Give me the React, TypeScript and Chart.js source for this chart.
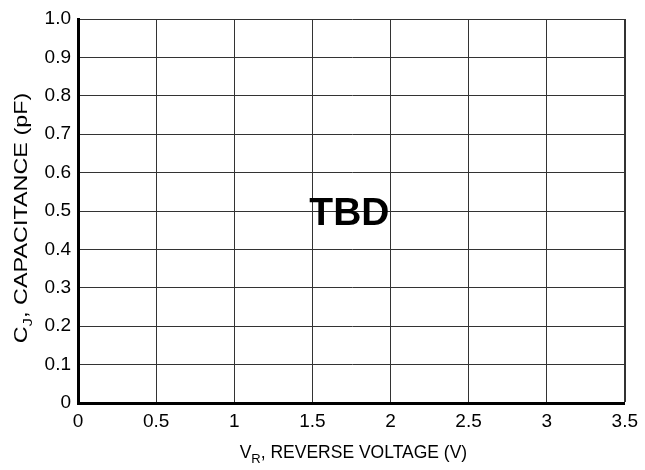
import React, { useEffect, useRef } from "react";
import { Chart, registerables } from "chart.js";

Chart.register(...registerables);

const xTicks = [0, 0.5, 1, 1.5, 2, 2.5, 3, 3.5];
const xTickLabels = ["0", "0.5", "1", "1.5", "2", "2.5", "3", "3.5"];
const yTicks = [0, 0.1, 0.2, 0.3, 0.4, 0.5, 0.6, 0.7, 0.8, 0.9, 1.0];
const yTickLabels = ["0", "0.1", "0.2", "0.3", "0.4", "0.5", "0.6", "0.7", "0.8", "0.9", "1.0"];
const seriesValues: { x: number; y: number }[] = []; // no data: "TBD"
const centerText = "TBD";
const xTitle = { main: "V", sub: "R", rest: ", REVERSE VOLTAGE (V)" };
const yTitle = { main: "C", sub: "J", rest: ", CAPACITANCE (pF)" };

const FONT = "'Liberation Sans', Arial, Helvetica, sans-serif";

function drawSubTitle(ctx: CanvasRenderingContext2D, t: { main: string; sub: string; rest: string }, size: number) {
  const big = `${size}px ${FONT}`;
  const small = `${Math.round(size * 0.72)}px ${FONT}`;
  ctx.font = big;
  const w1 = ctx.measureText(t.main).width;
  const w3 = ctx.measureText(t.rest).width;
  ctx.font = small;
  const w2 = ctx.measureText(t.sub).width;
  const total = w1 + w2 + w3;
  let x = -total / 2;
  ctx.textAlign = "left";
  ctx.textBaseline = "alphabetic";
  ctx.font = big;
  ctx.fillText(t.main, x, 0);
  x += w1;
  ctx.font = small;
  ctx.fillText(t.sub, x, size * 0.28);
  x += w2;
  ctx.font = big;
  ctx.fillText(t.rest, x, 0);
}

const titlesPlugin = {
  id: "titlesPlugin",
  afterDraw(chart: any) {
    const { ctx, chartArea } = chart;
    ctx.save();
    ctx.fillStyle = "#000";
    const cx = (chartArea.left + chartArea.right) / 2;
    // x title
    ctx.save();
    ctx.translate(cx + 2, 458);
    drawSubTitle(ctx, xTitle, 17.5);
    ctx.restore();
    // y title
    ctx.save();
    ctx.translate(27, 218);
    ctx.rotate(-Math.PI / 2);
    ctx.scale(1.3, 1);
    drawSubTitle(ctx, yTitle, 18);
    ctx.restore();
    // center text
    ctx.font = `bold 39px ${FONT}`;
    ctx.textAlign = "center";
    ctx.textBaseline = "middle";
    ctx.fillText(centerText, cx - 2, 214);
    ctx.restore();
  },
};

export default function App() {
  const ref = useRef<HTMLCanvasElement | null>(null);
  useEffect(() => {
    if (!ref.current) return;
    const chart = new Chart(ref.current, {
      type: "scatter",
      data: { datasets: [{ data: seriesValues, showLine: false }] },
      options: {
        animation: false,
        responsive: false,
        layout: { padding: { left: 0, top: 19, right: 19, bottom: 0 } },
        plugins: { legend: { display: false }, tooltip: { enabled: false } },
        scales: {
          x: {
            type: "linear",
            min: 0,
            max: 3.5,
            afterBuildTicks: (s: any) => {
              s.ticks = xTicks.map((v) => ({ value: v }));
            },
            afterFit: (s: any) => {
              s.height = 67;
            },
            ticks: {
              padding: 7,
              color: "#000",
              font: { family: FONT, size: 19 },
              maxRotation: 0,
              callback: (v: any) => {
                const i = xTicks.indexOf(Number(v));
                return i >= 0 ? xTickLabels[i] : "";
              },
            },
            grid: {
              color: "#333",
              lineWidth: (c: any) => (c.tick && c.tick.value === 3.5 ? 2 : 1),
              drawTicks: false,
            },
            border: { color: "#000", width: 3 },
          },
          y: {
            type: "linear",
            min: 0,
            max: 1,
            afterBuildTicks: (s: any) => {
              s.ticks = yTicks.map((v) => ({ value: v }));
            },
            afterFit: (s: any) => {
              s.width = 78;
            },
            ticks: {
              padding: 7,
              color: "#000",
              font: { family: FONT, size: 19 },
              callback: (v: any) => {
                const i = yTicks.findIndex((t) => Math.abs(t - Number(v)) < 1e-9);
                return i >= 0 ? yTickLabels[i] : "";
              },
            },
            grid: { color: "#333", lineWidth: 1, drawTicks: false },
            border: { color: "#000", width: 3 },
          },
        },
      },
      plugins: [titlesPlugin],
    });
    return () => chart.destroy();
  }, []);
  return (
    <div style={{ position: "fixed", left: 0, top: 0, width: 645, height: 470, background: "#fff" }}>
      <canvas ref={ref} width={645} height={470} />
    </div>
  );
}
